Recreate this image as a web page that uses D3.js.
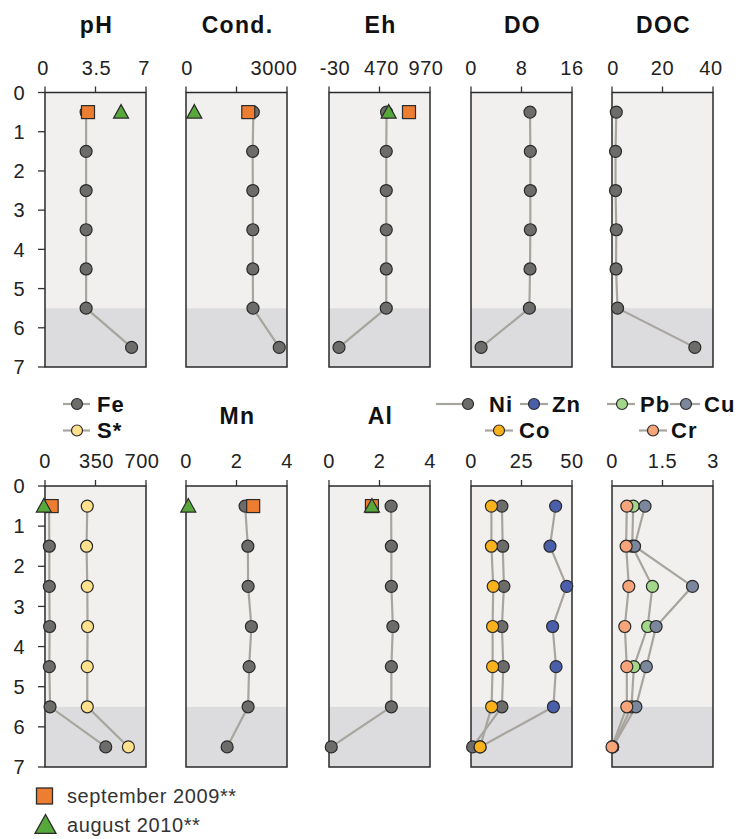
<!DOCTYPE html>
<html>
<head>
<meta charset="utf-8">
<script src="https://cdn.jsdelivr.net/npm/d3@7"></script>
<style>
  html, body { margin: 0; padding: 0; background: #fff; }
  svg { display: block; font-family: Arial, "Liberation Sans", sans-serif; }
</style>
</head>
<body>
<svg id="chart" width="739" height="839"></svg>
<script>
// Sampling depths (m) of the profile
const depths = [0.5, 1.5, 2.5, 3.5, 4.5, 5.5, 6.5];
const depthTicks = [0, 1, 2, 3, 4, 5, 6, 7];
const sedimentTop = 5.5;

// Porewater / water column profiles
const pHValues   = [2.85, 2.85, 2.85, 2.85, 2.85, 2.85, 6.0];
const condValues = [2000, 1980, 1985, 1985, 1985, 1990, 2770];
const ehValues   = [540, 537, 537, 537, 537, 537, 69];
const doValues   = [9.35, 9.4, 9.4, 9.4, 9.35, 9.25, 1.6];
const docValues  = [1.7, 1.4, 1.4, 1.7, 1.6, 2.2, 32.8];
const feValues   = [28, 30, 30, 32, 30, 35, 421];
const sValues    = [293, 288, 293, 295, 293, 293, 578];
const mnValues   = [2.34, 2.45, 2.46, 2.59, 2.5, 2.46, 1.63];
const alValues   = [2.46, 2.47, 2.47, 2.53, 2.47, 2.47, 0.09];
const niValues   = [15.3, 15.7, 16.3, 15.3, 16.0, 15.3, 0.8];
const znValues   = [41.9, 39.1, 47.4, 40.4, 42.1, 40.8, 4.5];
const coValues   = [10.1, 10.1, 11.0, 10.7, 10.7, 10.2, 4.5];
const pbValues   = [0.63, 0.6, 1.2, 1.06, 0.65, 0.58, 0.02];
const cuValues   = [0.98, 0.67, 2.39, 1.31, 1.02, 0.71, 0.02];
const crValues   = [0.44, 0.42, 0.5, 0.38, 0.44, 0.44, 0.0];

// Earlier campaigns, surface sample (0.5 m)
const sep2009 = { pH: 2.98, cond: 1850, eh: 762, fe: 46, mn: 2.66, al: 1.7 };
const aug2010 = { pH: 5.27, cond: 247, eh: 561, fe: -8, mn: 0.09, al: 1.7 };

// Axis tick labels
const pHTicks = [0, 3.5, 7];
const condTicks = [0, 3000];
const condTickMarks = [0, 1500, 3000];
const ehTicks = [-30, 470, 970];
const doTicks = [0, 8, 16];
const docTicks = [0, 20, 40];
const feTicks = [0, 350, 700];
const mnTicks = [0, 2, 4];
const alTicks = [0, 2, 4];
const niTicks = [0, 25, 50];
const pbTicks = [0, 1.5, 3];

const C = {
  gray: "#6c6c6a", yellow: "#ffe08c", blue: "#4a5fab", gold: "#fab21c",
  lgreen: "#a3d78a", slate: "#7b879c", salmon: "#f6a47a",
  orange: "#ed7d31", green: "#56a83a", line: "#a8a59f",
  stroke: "#2b2b2b", bgUpper: "#f2f0ef", bgLower: "#dcdcde"
};

const svg = d3.select("#chart");
svg.append("rect").attr("width", 739).attr("height", 839).attr("fill", "#fff");

const panelLefts = [45, 186, 329, 471, 612];
const panelW = 101;

const rows = [
  { y0: 92.5, y1: 367, tickBase: 75, panels: [
    { domain: [0, 7], ticks: pHTicks, marks: pHTicks, shift: [-2, 1, -2], series: [{ v: pHValues, c: C.gray }], sq: sep2009.pH, tri: aug2010.pH },
    { domain: [0, 3000], ticks: condTicks, marks: condTickMarks, shift: [1, -13], series: [{ v: condValues, c: C.gray }], sq: sep2009.cond, tri: aug2010.cond },
    { domain: [-30, 970], ticks: ehTicks, marks: ehTicks, shift: [6, 2, -4], series: [{ v: ehValues, c: C.gray }], sq: sep2009.eh, tri: aug2010.eh },
    { domain: [0, 16], ticks: doTicks, marks: doTicks, series: [{ v: doValues, c: C.gray }] },
    { domain: [0, 40], ticks: docTicks, marks: docTicks, shift: [1, 0, -2], series: [{ v: docValues, c: C.gray }] }
  ]},
  { y0: 486, y1: 767, tickBase: 468, panels: [
    { domain: [0, 700], ticks: feTicks, marks: feTicks, shift: [0, 1, -4], series: [{ v: feValues, c: C.gray }, { v: sValues, c: C.yellow }], sq: sep2009.fe, tri: aug2010.fe },
    { domain: [0, 4], ticks: mnTicks, marks: mnTicks, series: [{ v: mnValues, c: C.gray }], sq: sep2009.mn, tri: aug2010.mn },
    { domain: [0, 4], ticks: alTicks, marks: alTicks, series: [{ v: alValues, c: C.gray }], sq: sep2009.al, tri: aug2010.al },
    { domain: [0, 50], ticks: niTicks, marks: niTicks, series: [{ v: niValues, c: C.gray }, { v: znValues, c: C.blue }, { v: coValues, c: C.gold }] },
    { domain: [0, 3], ticks: pbTicks, marks: pbTicks, series: [{ v: pbValues, c: C.lgreen }, { v: cuValues, c: C.slate }, { v: crValues, c: C.salmon }] }
  ]}
];

const triPath = (s) => `M0,${-7.5 * s}L${7.5 * s},${6 * s}L${-7.5 * s},${6 * s}Z`;

rows.forEach(row => {
  const y = d3.scaleLinear().domain([0, 7]).range([row.y0, row.y1]);

  // depth axis on the left
  const ya = svg.append("g");
  ya.selectAll("line").data(depthTicks).join("line")
    .attr("x1", 38).attr("x2", 45).attr("y1", d => y(d)).attr("y2", d => y(d))
    .attr("stroke", "#333").attr("stroke-width", 1.3);
  ya.selectAll("text").data(depthTicks).join("text")
    .attr("x", 25).attr("y", d => y(d)).attr("dy", "0.36em")
    .attr("text-anchor", "end").attr("font-size", 20).attr("letter-spacing", 0.5)
    .attr("fill", "#222").text(d => d);

  row.panels.forEach((p, i) => {
    const left = panelLefts[i];
    const x = d3.scaleLinear().domain(p.domain).range([left, left + panelW]);
    const g = svg.append("g");

    g.append("rect").attr("x", left).attr("y", y(0)).attr("width", panelW)
      .attr("height", y(sedimentTop) - y(0)).attr("fill", C.bgUpper);
    g.append("rect").attr("x", left).attr("y", y(sedimentTop)).attr("width", panelW)
      .attr("height", y(7) - y(sedimentTop)).attr("fill", C.bgLower);
    g.append("rect").attr("x", left).attr("y", y(0)).attr("width", panelW)
      .attr("height", y(7) - y(0)).attr("fill", "none")
      .attr("stroke", "#2a2a2a").attr("stroke-width", 1.5);

    // top value axis
    g.selectAll(".tk").data(p.marks).join("line")
      .attr("x1", d => x(d)).attr("x2", d => x(d))
      .attr("y1", y(0)).attr("y2", y(0) - 6)
      .attr("stroke", "#333").attr("stroke-width", 1.3);
    const shift = p.shift || [];
    g.selectAll(".tl").data(p.ticks).join("text")
      .attr("x", (d, k) => x(d) + (shift[k] || 0)).attr("y", row.tickBase)
      .attr("text-anchor", "middle").attr("font-size", 20).attr("letter-spacing", 0.6)
      .attr("fill", "#222").text(d => d);

    const line = d3.line().x(d => x(d[0])).y(d => y(d[1]));
    p.series.forEach(s => {
      g.append("path").datum(s.v.map((v, k) => [v, depths[k]]))
        .attr("d", line).attr("fill", "none")
        .attr("stroke", C.line).attr("stroke-width", 2.2);
    });
    p.series.forEach(s => {
      g.selectAll(null).data(s.v).join("circle")
        .attr("cx", d => x(d)).attr("cy", (d, k) => y(depths[k])).attr("r", 6)
        .attr("fill", s.c).attr("stroke", C.stroke).attr("stroke-width", 1.2);
    });
    if (p.sq !== undefined) {
      g.append("rect").attr("x", x(p.sq) - 6.5).attr("y", y(0.5) - 6.5)
        .attr("width", 13).attr("height", 13)
        .attr("fill", C.orange).attr("stroke", C.stroke).attr("stroke-width", 1.2);
    }
    if (p.tri !== undefined) {
      g.append("path").attr("d", triPath(1))
        .attr("transform", `translate(${x(p.tri)},${y(0.5)})`)
        .attr("fill", C.green).attr("stroke", C.stroke).attr("stroke-width", 1.2);
    }
  });
});

// Panel titles
const titleStyle = sel => sel.attr("font-size", 23).attr("font-weight", "bold")
  .attr("letter-spacing", 1.3).attr("fill", "#111").attr("text-anchor", "middle");
const topTitles = ["pH", "Cond.", "Eh", "DO", "DOC"];
topTitles.forEach((t, i) => {
  svg.append("text").attr("x", panelLefts[i] + panelW / 2 + 1).attr("y", 33).call(titleStyle).text(t);
});
[["Mn", 1], ["Al", 2]].forEach(([t, i]) => {
  svg.append("text").attr("x", panelLefts[i] + panelW / 2 + 1).attr("y", 424).call(titleStyle).text(t);
});

// In-panel legends for the multi-element profiles
const legendItems = [
  { name: "Fe", c: C.gray, x1: 63, x2: 90, cx: 77, y: 404, tx: 97 },
  { name: "S*", c: C.yellow, x1: 63, x2: 90, cx: 77, y: 430.5, tx: 97 },
  { name: "Ni", c: C.gray, x1: 436, x2: 468, cx: 468, y: 404, tx: 489 },
  { name: "Zn", c: C.blue, x1: 520, x2: 548, cx: 534, y: 404, tx: 552 },
  { name: "Co", c: C.gold, x1: 485, x2: 513, cx: 499, y: 430.5, tx: 519 },
  { name: "Pb", c: C.lgreen, x1: 607, x2: 635, cx: 622, y: 404, tx: 640 },
  { name: "Cu", c: C.slate, x1: 670, x2: 700, cx: 686, y: 404, tx: 704 },
  { name: "Cr", c: C.salmon, x1: 639, x2: 667, cx: 653, y: 430.5, tx: 671 }
];
const lg = svg.append("g");
legendItems.forEach(d => {
  lg.append("line").attr("x1", d.x1).attr("x2", d.x2).attr("y1", d.y).attr("y2", d.y)
    .attr("stroke", C.line).attr("stroke-width", 2.2);
  lg.append("circle").attr("cx", d.cx).attr("cy", d.y).attr("r", 5.5)
    .attr("fill", d.c).attr("stroke", C.stroke).attr("stroke-width", 1.2);
  lg.append("text").attr("x", d.tx).attr("y", d.y + 7.5)
    .attr("font-size", 22).attr("font-weight", "bold").attr("letter-spacing", 1)
    .attr("fill", "#111").text(d.name);
});

// Campaign legend
const cl = svg.append("g");
cl.append("rect").attr("x", 36.5).attr("y", 788).attr("width", 16).attr("height", 16)
  .attr("fill", C.orange).attr("stroke", C.stroke).attr("stroke-width", 1.3);
cl.append("text").attr("x", 67).attr("y", 803).attr("font-size", 20).attr("letter-spacing", 0.6)
  .attr("fill", "#333").text("september 2009**");
cl.append("path").attr("d", triPath(1.4)).attr("transform", "translate(45.5,825)")
  .attr("fill", C.green).attr("stroke", C.stroke).attr("stroke-width", 1.3);
cl.append("text").attr("x", 67).attr("y", 832).attr("font-size", 20).attr("letter-spacing", 0.6)
  .attr("fill", "#333").text("august 2010**");
</script>
</body>
</html>
